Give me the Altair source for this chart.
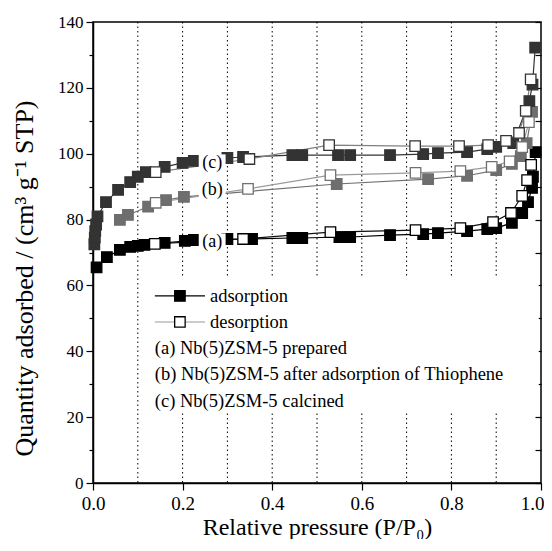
import altair as alt
import pandas as pd

FONT = "Liberation Serif"

# ---- data ----
a_ads_x = [0.008, 0.031, 0.06, 0.083, 0.10, 0.115, 0.16, 0.205, 0.225, 0.30, 0.355, 0.445, 0.467, 0.55, 0.574,
           0.663, 0.737, 0.77, 0.835, 0.88, 0.90, 0.935, 0.958, 0.971, 0.98, 0.982, 0.988]
a_ads_y = [65.5, 68.6, 70.8, 71.7, 72.0, 72.3, 72.9, 73.5, 73.8, 74.1, 74.1, 74.4, 74.4, 74.7, 74.7,
           75.3, 75.6, 75.9, 76.5, 77.1, 77.4, 79.0, 82.0, 85.3, 89.6, 93.0, 100.5]
a_des_x = [0.978, 0.969, 0.958, 0.933, 0.893, 0.82, 0.72, 0.53, 0.335, 0.138]
a_des_y = [96.6, 92.0, 87.2, 82.0, 79.2, 77.4, 76.8, 76.2, 74.1, 72.6]

b_ads_x = [0.06, 0.078, 0.123, 0.163, 0.203, 0.544, 0.748, 0.835, 0.90, 0.935, 0.955, 0.968, 0.98]
b_ads_y = [79.9, 81.4, 83.9, 85.9, 86.9, 90.8, 92.3, 93.3, 95.0, 96.9, 99.3, 103.2, 112.7]
b_des_x = [0.973, 0.958, 0.93, 0.89, 0.82, 0.72, 0.53, 0.346, 0.14]
b_des_y = [109.6, 102.0, 97.7, 96.0, 94.7, 94.2, 93.5, 89.3, 85.1]

c_ads_x = [0.003, 0.004, 0.005, 0.007, 0.01, 0.029, 0.056, 0.083, 0.10, 0.118, 0.16, 0.20, 0.225, 0.30, 0.335,
           0.445, 0.467, 0.547, 0.574, 0.663, 0.737, 0.77, 0.835, 0.88, 0.90, 0.938, 0.974, 0.981, 0.987]
c_ads_y = [72.5, 74.5, 76.5, 78.5, 81.0, 85.3, 89.0, 91.4, 93.0, 94.4, 96.0, 97.2, 97.8, 98.7, 99.0,
           99.6, 99.6, 99.6, 99.6, 99.6, 99.9, 100.2, 100.5, 101.4, 102.1, 103.2, 116.0, 121.0, 132.2]
c_des_x = [0.977, 0.966, 0.951, 0.922, 0.882, 0.817, 0.719, 0.527, 0.349, 0.14]
c_des_y = [122.6, 113.0, 106.3, 103.9, 102.6, 102.3, 102.3, 102.6, 98.4, 94.4]

keys = ["a-ads", "b-ads", "c-ads", "a-des", "b-des", "c-des"]
line_colors = ["#000000", "#707070", "#333333", "#111111", "#9a9a9a", "#808080"]
fill_colors = ["#000000", "#6e6e6e", "#333333", "#ffffff", "#ffffff", "#ffffff"]
stroke_colors = ["#000000", "#6e6e6e", "#333333", "#000000", "#707070", "#333333"]

grid_x = [0.1, 0.2, 0.3, 0.4, 0.5, 0.6, 0.7, 0.8, 0.9]

curve_labels = ["(a)", "(b)", "(c)"]
curve_label_x = [0.266, 0.266, 0.266]
curve_label_y = [73.2, 89.0, 97.2]

legend_lines = ["adsorption", "desorption", "(a) Nb(5)ZSM-5 prepared",
                "(b) Nb(5)ZSM-5 after adsorption of Thiophene", "(c) Nb(5)ZSM-5 calcined"]
legend_text_x = [0.261, 0.261, 0.138, 0.138, 0.138]
legend_text_y = [56.8, 48.9, 41.0, 33.1, 24.9]

# ---- tables ----
rows = []
for key, xs, ys in [("a-ads", a_ads_x, a_ads_y), ("b-ads", b_ads_x, b_ads_y), ("c-ads", c_ads_x, c_ads_y),
                    ("a-des", a_des_x, a_des_y), ("b-des", b_des_x, b_des_y), ("c-des", c_des_x, c_des_y)]:
    for i, (x, y) in enumerate(zip(xs, ys)):
        rows.append(dict(x=x, y=y, key=key, i=i, rank=1 if key.endswith("des") else 0))
df = pd.DataFrame(rows)

leg_sym = pd.DataFrame([
    dict(x=0.138, y=56.8, key="a-ads", i=0), dict(x=0.25, y=56.8, key="a-ads", i=1),
    dict(x=0.138, y=48.9, key="b-des", i=0), dict(x=0.25, y=48.9, key="b-des", i=1),
])
leg_pts = pd.DataFrame([dict(x=0.194, y=56.8, key="a-ads"), dict(x=0.194, y=48.9, key="a-des")])

legend_box = pd.DataFrame([dict(x=0.125, x2=0.995, y=21.8, y2=62.4)])
label_boxes = pd.DataFrame({"x": [v - 0.03 for v in curve_label_x], "x2": [v + 0.03 for v in curve_label_x],
                            "y": [v - 2.6 for v in curve_label_y], "y2": [v + 2.6 for v in curve_label_y]})

xsc = alt.Scale(domain=[0, 1], nice=False, zero=False)
ysc = alt.Scale(domain=[0, 140], nice=False)

x_axis = alt.Axis(values=[0, 0.2, 0.4, 0.6, 0.8, 1.0], format=".1f", title="Relative pressure (P/P₀)",
                  tickSize=7, labelPadding=4, titlePadding=2, grid=False, labelFlush=False,
                  labelAlign=alt.condition("datum.value >= 1", alt.value("right"), alt.value("center")),
                  labelOffset=alt.condition("datum.value >= 1", alt.value(3), alt.value(0)),
                  labelFont=FONT, titleFont=FONT, labelFontSize=19, titleFontSize=24)
y_axis = alt.Axis(values=list(range(0, 150, 10)),
                  labelExpr="datum.value % 20 === 0 ? datum.label : ''",
                  tickSize=alt.condition("datum.value % 20 === 0", alt.value(7), alt.value(4)),
                  title="Quantity adsorbed / (cm³ g⁻¹ STP)", labelPadding=3, titlePadding=20, titleY=256,
                  grid=False, labelFlush=False, labelFont=FONT, titleFont=FONT, labelFontSize=17,
                  titleFontSize=26)
y_axis_right = alt.Axis(orient="right", values=list(range(0, 150, 10)), labels=False, domain=False,
                        ticks=True, tickSize=6, offset=-6, grid=False, title=None)


def X(field):
    return alt.X(field, scale=xsc, axis=x_axis)


def Y(field, axis=None):
    return alt.Y(field, scale=ysc, axis=axis)


grid = alt.Chart(pd.DataFrame({"gx": grid_x})).mark_rule(
    color="black", strokeDash=[1.5, 3], strokeWidth=1).encode(x=X("gx:Q"))

lines = alt.Chart(df).mark_line(strokeWidth=1.2).encode(
    x=X("x:Q"), y=Y("y:Q", y_axis),
    color=alt.Color("key:N", scale=alt.Scale(domain=keys, range=line_colors), legend=None),
    order="i:Q")

pts = alt.Chart(df).mark_point(shape="square", filled=True, size=110, strokeWidth=1.3, opacity=1).encode(
    x=X("x:Q"), y=Y("y:Q"),
    fill=alt.Fill("key:N", scale=alt.Scale(domain=keys, range=fill_colors), legend=None),
    stroke=alt.Stroke("key:N", scale=alt.Scale(domain=keys, range=stroke_colors), legend=None),
    order="rank:Q")

right = alt.Chart(df).mark_point(opacity=0).encode(x=X("x:Q"), y=Y("y:Q", y_axis_right))

box = alt.Chart(legend_box).mark_rect(fill="white").encode(
    x=X("x:Q"), x2="x2:Q", y=Y("y:Q"), y2="y2:Q")

lbox = alt.Chart(label_boxes).mark_rect(fill="white").encode(
    x=X("x:Q"), x2="x2:Q", y=Y("y:Q"), y2="y2:Q")

lbl = alt.Chart(pd.DataFrame({"t": curve_labels, "x": curve_label_x, "y": curve_label_y})).mark_text(
    font=FONT, fontSize=18, align="center", baseline="middle", color="black").encode(
    x=X("x:Q"), y=Y("y:Q"), text="t:N")

leg_line = alt.Chart(leg_sym).mark_line(strokeWidth=1.2).encode(
    x=X("x:Q"), y=Y("y:Q"),
    color=alt.Color("key:N", scale=alt.Scale(domain=keys, range=line_colors), legend=None),
    order="i:Q")
leg_pt = alt.Chart(leg_pts).mark_point(shape="square", filled=True, size=110, strokeWidth=1.3, opacity=1).encode(
    x=X("x:Q"), y=Y("y:Q"),
    fill=alt.Fill("key:N", scale=alt.Scale(domain=keys, range=fill_colors), legend=None),
    stroke=alt.Stroke("key:N", scale=alt.Scale(domain=keys, range=stroke_colors), legend=None))
leg_txt = alt.Chart(pd.DataFrame({"t": legend_lines, "x": legend_text_x, "y": legend_text_y})).mark_text(
    font=FONT, fontSize=18.5, align="left", baseline="middle", color="black").encode(
    x=X("x:Q"), y=Y("y:Q"), text="t:N")

chart = alt.layer(grid, lines, pts, right, box, lbox, lbl, leg_line, leg_pt, leg_txt).resolve_axis(
    y="independent").properties(
    width=448, height=461,
    autosize=alt.AutoSizeParams(type="none"),
    padding={"left": 85, "top": 14, "right": 3, "bottom": 56},
).configure(font=FONT).configure_view(stroke="black", strokeWidth=1.5).configure_axis(
    labelFont=FONT, titleFont=FONT, titleFontWeight="normal",
    labelColor="black", titleColor="black", domainColor="black", tickColor="black",
    domainWidth=1.5, tickWidth=1.2)

chart.save("out.html", embed_options={"renderer": "svg", "actions": False})
